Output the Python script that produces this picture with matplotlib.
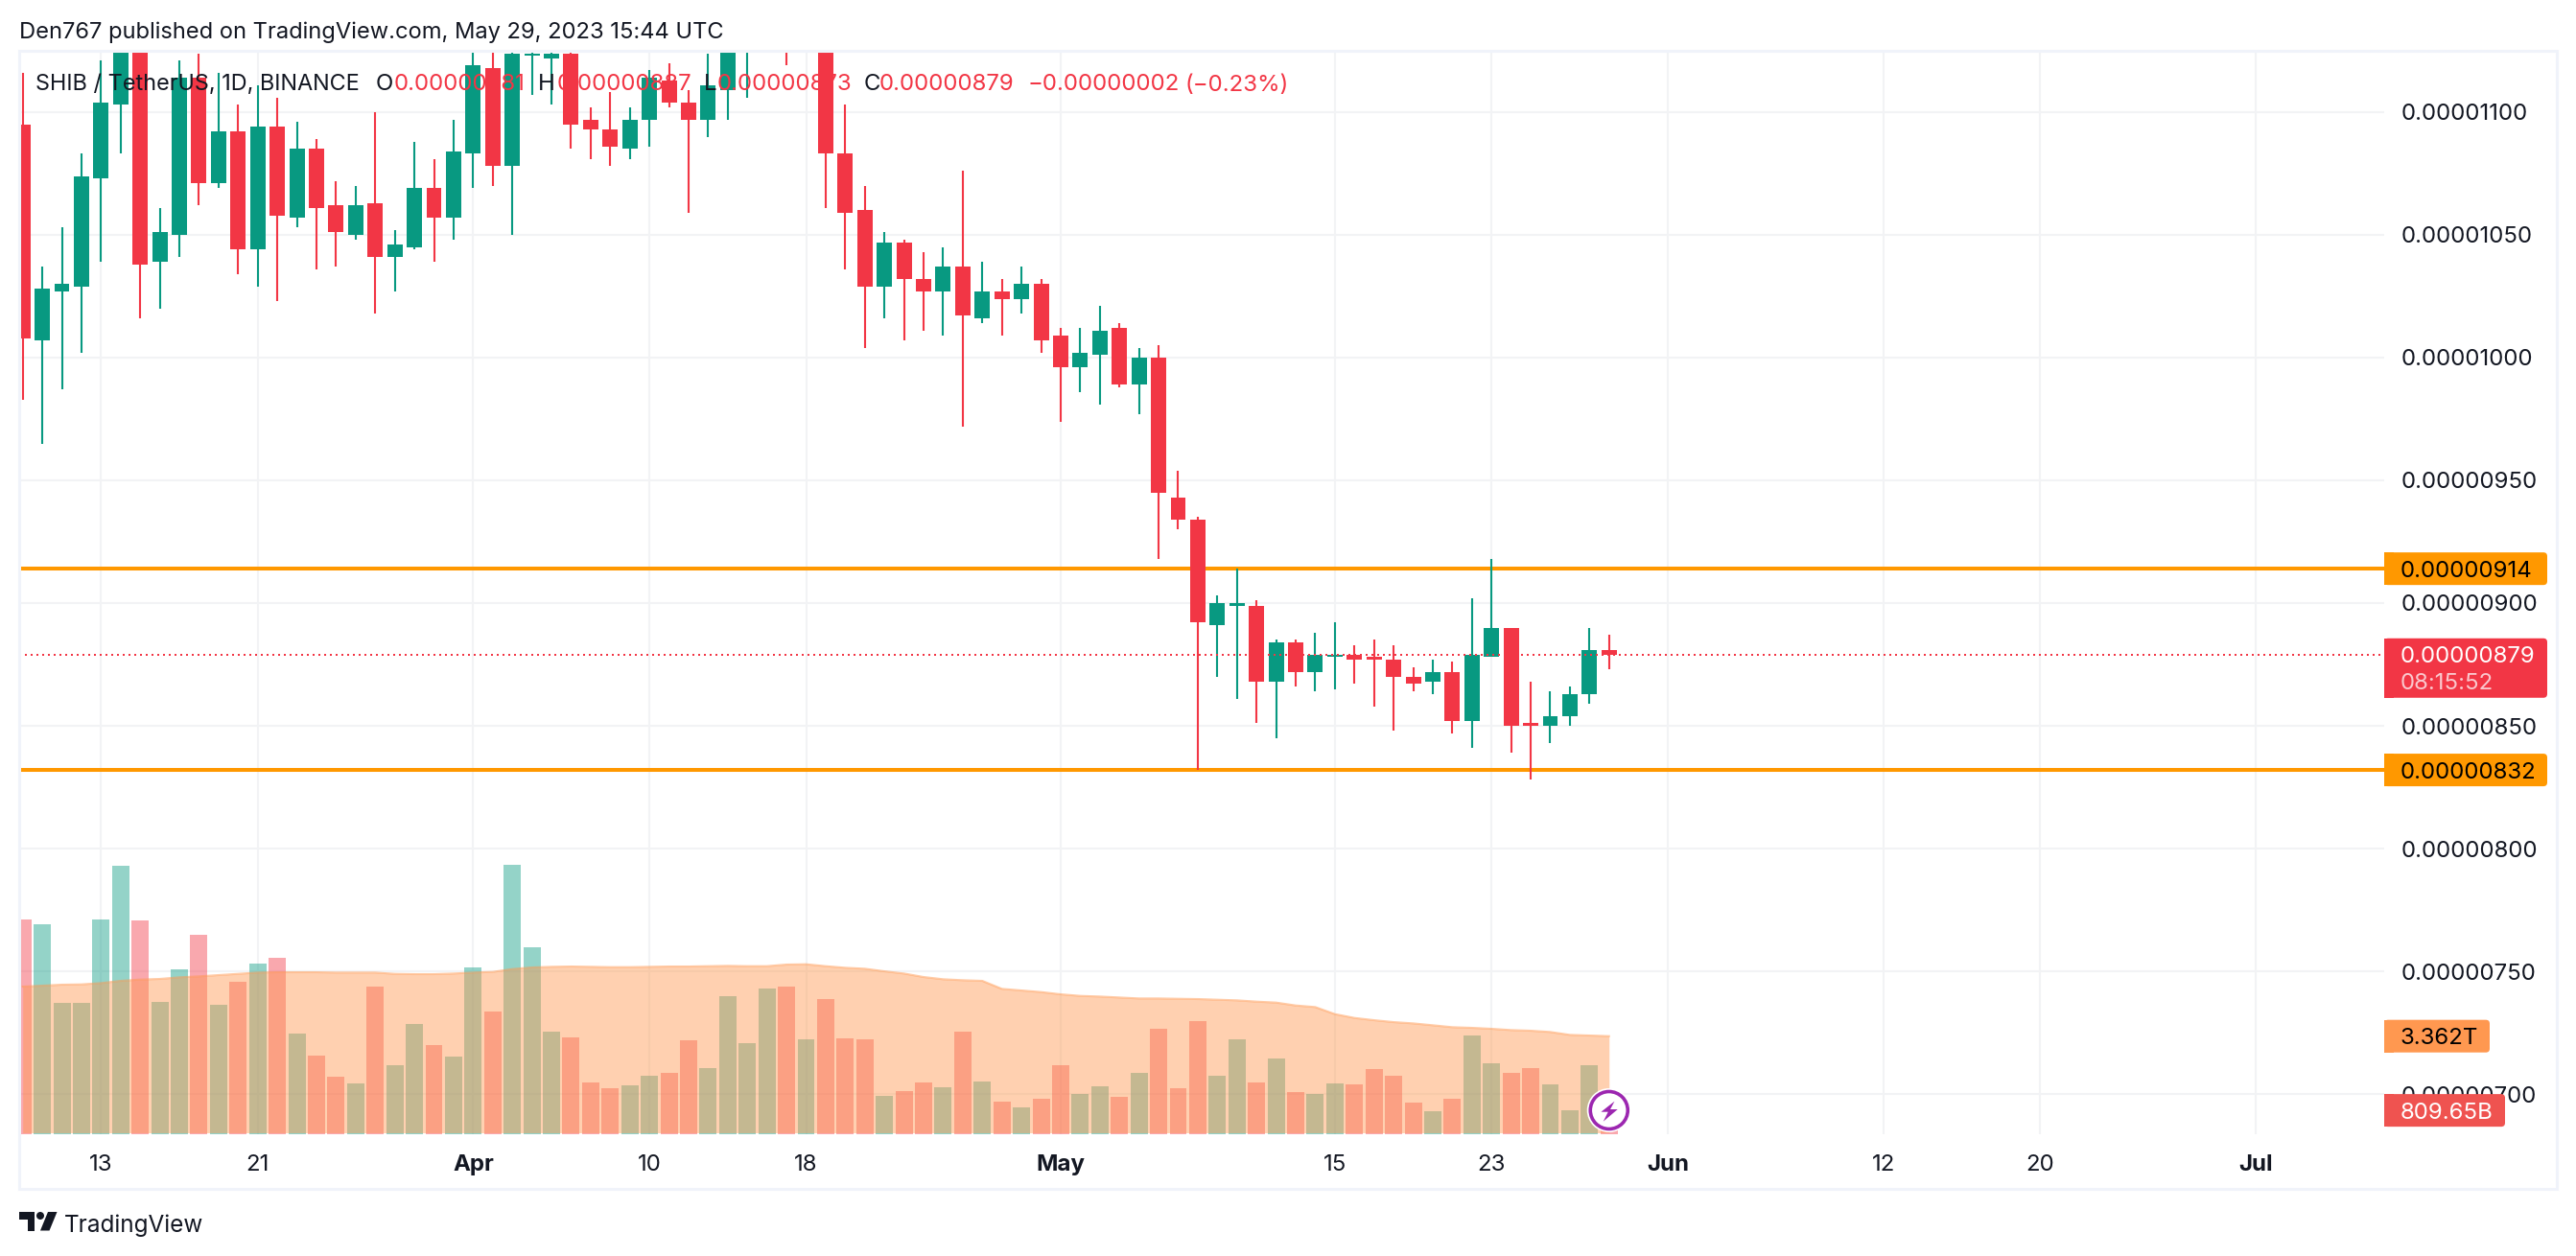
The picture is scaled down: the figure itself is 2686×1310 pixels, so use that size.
import matplotlib
matplotlib.use("Agg")
import matplotlib.pyplot as plt
import matplotlib.dates as mdates
import pandas as pd
from matplotlib.patches import Circle, FancyBboxPatch, Polygon, Rectangle
from matplotlib.transforms import IdentityTransform

W, H = 2686, 1310
plt.rcParams['font.family'] = ['Inter', 'DejaVu Sans']

GREEN = '#089981'
RED = '#F23645'
INK = '#131722'
GRID = '#F2F3F5'
BORDER = '#F0F3FA'
ORANGE = '#FF9800'
MA_COLOR = '#FF9850'

# prices in units of 0.00000001, first candle is Mar 9 2023
opens = [1095, 1007, 1027, 1029, 1073, 1103, 1138, 1039, 1050, 1114, 1071, 1092, 1044, 1094, 1057, 1085, 1062, 1050, 1063, 1041,
         1045, 1069, 1057, 1083, 1118, 1078, 1123, 1122, 1124, 1097, 1093, 1085, 1097, 1113, 1104, 1097, 1109, 1128, 1130, 1140,
         1128, 1140, 1083, 1060, 1029, 1047, 1032, 1027, 1037, 1016, 1027, 1024, 1030, 1009, 996, 1001, 1012, 989, 1000, 943,
         934, 891, 899, 899, 868, 884, 872, 878, 879, 878, 877, 870, 868, 872, 852, 878, 890, 851, 850, 854, 863, 881]
closes = [1008, 1028, 1030, 1074, 1104, 1132, 1038, 1051, 1114, 1071, 1092, 1044, 1094, 1058, 1085, 1061, 1051, 1062, 1041, 1046,
          1069, 1057, 1084, 1119, 1078, 1124, 1124, 1124, 1095, 1093, 1086, 1097, 1114, 1104, 1097, 1111, 1132, 1135, 1135, 1130,
          1132, 1083, 1059, 1029, 1047, 1032, 1027, 1037, 1017, 1027, 1024, 1030, 1007, 996, 1002, 1011, 989, 1000, 945, 934,
          892, 900, 900, 868, 884, 872, 879, 879, 877, 877, 870, 867, 872, 852, 879, 890, 850, 850, 854, 863, 881, 879]
highs = [1116, 1037, 1053, 1083, 1121, 1140, 1145, 1061, 1121, 1124, 1116, 1103, 1111, 1106, 1096, 1089, 1072, 1070, 1100, 1052,
         1088, 1081, 1097, 1128, 1130, 1130, 1125, 1128, 1130, 1102, 1108, 1102, 1117, 1120, 1109, 1124, 1138, 1140, 1140, 1145,
         1140, 1145, 1103, 1070, 1051, 1048, 1043, 1045, 1076, 1039, 1032, 1037, 1032, 1012, 1012, 1021, 1014, 1004, 1005, 954,
         935, 903, 914, 901, 885, 885, 888, 892, 883, 885, 883, 874, 877, 876, 902, 918, 890, 868, 864, 866, 890, 887]
lows = [983, 965, 987, 1002, 1039, 1083, 1016, 1020, 1041, 1062, 1069, 1034, 1029, 1023, 1053, 1036, 1037, 1048, 1018, 1027,
        1044, 1039, 1048, 1069, 1070, 1050, 1107, 1103, 1085, 1081, 1078, 1081, 1086, 1102, 1059, 1090, 1097, 1106, 1125, 1119,
        1125, 1061, 1036, 1004, 1016, 1007, 1011, 1009, 972, 1014, 1009, 1018, 1002, 974, 986, 981, 988, 977, 918, 930,
        832, 870, 861, 851, 845, 866, 864, 865, 867, 858, 848, 864, 863, 847, 841, 878, 839, 828, 843, 850, 859, 873]

# volume in trillions
volumes = [7.372, 7.207, 4.505, 4.505, 7.372, 9.218, 7.339, 4.538, 5.658, 6.845, 4.439, 5.230, 5.856, 6.054, 3.450, 2.692, 1.967, 1.736, 5.065, 2.362,
           3.780, 3.054, 2.659, 5.724, 4.208, 9.251, 6.416, 3.516, 3.318, 1.769, 1.571, 1.670, 2.000, 2.099, 3.219, 2.263, 4.735, 3.120, 4.999, 5.065,
           3.252, 4.637, 3.285, 3.252, 1.307, 1.472, 1.769, 1.604, 3.516, 1.802, 1.110, 0.912, 1.209, 2.362, 1.373, 1.637, 1.274, 2.099, 3.615, 1.571,
           3.878, 2.000, 3.252, 1.769, 2.593, 1.439, 1.373, 1.736, 1.703, 2.230, 2.000, 1.077, 0.780, 1.209, 3.384, 2.428, 2.099, 2.263, 1.703, 0.813, 2.362, 0.810]
volume_ma = [5.065, 5.098, 5.131, 5.142, 5.186, 5.263, 5.307, 5.329, 5.384, 5.417, 5.461, 5.504, 5.548, 5.559, 5.559, 5.559, 5.548, 5.548, 5.548, 5.504,
             5.494, 5.494, 5.515, 5.548, 5.570, 5.669, 5.724, 5.746, 5.757, 5.746, 5.735, 5.735, 5.746, 5.757, 5.757, 5.768, 5.779, 5.768, 5.768, 5.823,
             5.834, 5.768, 5.713, 5.680, 5.592, 5.515, 5.395, 5.318, 5.285, 5.263, 4.988, 4.933, 4.878, 4.801, 4.746, 4.724, 4.691, 4.658, 4.658, 4.647,
             4.637, 4.615, 4.593, 4.549, 4.516, 4.417, 4.362, 4.120, 3.988, 3.911, 3.845, 3.801, 3.736, 3.670, 3.648, 3.615, 3.571, 3.549, 3.505, 3.406, 3.384, 3.362]

level_prices = [914, 832]
last_price = 879
price_ticks = [700, 750, 800, 850, 900, 950, 1000, 1050, 1100]
tick_dates = ['2023-03-13', '2023-03-21', '2023-04-01', '2023-04-10', '2023-04-18', '2023-05-01',
              '2023-05-15', '2023-05-23', '2023-06-01', '2023-06-12', '2023-06-20', '2023-07-01']
tick_names = ['13', '21', 'Apr', '10', '18', 'May', '15', '23', 'Jun', '12', '20', 'Jul']
bold_ticks = ['Apr', 'May', 'Jun', 'Jul']

publish_line = 'Den767 published on TradingView.com, May 29, 2023 15:44 UTC'
legend_parts = [(37, 'SHIB / TetherUS, 1D, BINANCE', INK, 16.9), (392, 'O', INK, 17.3), (411, '0.00000881', RED, 17.3),
                (561, 'H', INK, 17.3), (581, '0.00000887', RED, 17.3), (734, 'L', INK, 17.3), (748, '0.00000873', RED, 17.3),
                (901, 'C', INK, 17.3), (917, '0.00000879', RED, 17.3), (1072, '\u22120.00000002', RED, 17.3), (1236, '(\u22120.23%)', RED, 17.3)]

FONT = 17.3


def box(x0, x1, y0, y1):
    # pane rectangle in figure fractions, from pixels with y going down
    return [x0 / W, 1 - y1 / H, (x1 - x0) / W, (y1 - y0) / H]


def put_text(x, y, s, color=INK, ha='left', size=FONT, **kw):
    fig.text(x / W, 1 - y / H, s, color=color, ha=ha, va='center_baseline', fontsize=size, zorder=10, **kw)


def price_tag(center, x1, height, color):
    y0 = H - center - height / 2
    fig.add_artist(FancyBboxPatch((2486, y0), x1 - 2486, height, boxstyle='round,pad=0,rounding_size=4',
                                  facecolor=color, edgecolor='none', transform=IdentityTransform(), zorder=5))
    fig.add_artist(Rectangle((2486, y0), 10, height, facecolor=color, edgecolor='none',
                             transform=IdentityTransform(), zorder=5))


fig = plt.figure(figsize=(W / 100, H / 100), dpi=100, facecolor='white')

dates = pd.date_range('2023-03-09', periods=len(opens))
x = mdates.date2num(dates)
xlim = (x[0] - 0.18, x[0] + 120.58)
ticks = mdates.date2num(pd.to_datetime(tick_dates))

ax = fig.add_axes(box(20, 2486, 54, 1183))
ax.set_xlim(xlim)
ax.set_ylim(683.6, 1124.6)
ax.set_xticks(ticks)
ax.set_xticklabels(tick_names, fontsize=FONT, color=INK)
for lbl in ax.get_xticklabels():
    if lbl.get_text() in bold_ticks:
        lbl.set_fontweight('bold')
ax.set_yticks(price_ticks)
ax.set_yticklabels([f'{p / 1e8:.8f}' for p in price_ticks], fontsize=FONT, color=INK, va='center_baseline')
ax.yaxis.tick_right()
ax.tick_params(axis='x', length=0, pad=15)
ax.tick_params(axis='y', length=0, pad=12.5)
ax.grid(True, color=GRID, linewidth=1.5)
ax.set_axisbelow(True)
for s in ax.spines.values():
    s.set_visible(False)

ax.hlines(level_prices, xlim[0], xlim[1], color=ORANGE, linewidth=2.9, zorder=1.5)

colors = [GREEN if c >= o else RED for o, c in zip(opens, closes)]
ax.vlines(x, lows, highs, color=colors, linewidth=1.5, zorder=2)
bottoms = [min(o, c) for o, c in zip(opens, closes)]
heights = [abs(c - o) for o, c in zip(opens, closes)]
ax.bar(x, heights, bottom=bottoms, width=0.78, color=colors, linewidth=0, zorder=3)
ax.plot(xlim, [last_price, last_price], color=RED, linewidth=1.44, linestyle=(0, (1, 2)), zorder=4)

ax_vol = fig.add_axes(box(20, 2486, 54, 1183), sharex=ax)
ax_vol.patch.set_visible(False)
ax_vol.set_ylim(-0.01, 37.2)
ax_vol.axis('off')
ax_vol.bar(x, volumes, width=0.88, color=colors, alpha=0.43, linewidth=0)
ax_vol.fill_between(x, 0.04, volume_ma, color=MA_COLOR, alpha=0.45, linewidth=0)
ax_vol.plot(x, volume_ma, color=MA_COLOR, alpha=0.5, linewidth=1.5)

# outer frame
fig.add_artist(Rectangle((20, H - 1240), 2646, 1240 - 53, facecolor='none', edgecolor=BORDER, linewidth=2.2,
                         transform=IdentityTransform(), zorder=0.5))

put_text(20, 31, publish_line, size=17.05)
for px, s, c, fs in legend_parts:
    put_text(px, 86, s, color=c, size=fs)

# tags on the price scale
right_text = 2503
for price in level_prices:
    cy = H - ax.transData.transform((0, price))[1]
    price_tag(cy, 2656, 34, ORANGE)
    put_text(right_text, cy, f'{price / 1e8:.8f}', color='black')

cy = H - ax.transData.transform((0, last_price))[1]
price_tag(cy + 14, 2656, 62, RED)
put_text(right_text, cy, f'{last_price / 1e8:.8f}', color='white')
put_text(right_text, cy + 28, '08:15:52', color='#FAC8CD')

cy = H - ax_vol.transData.transform((0, volume_ma[-1]))[1]
price_tag(cy, 2596, 34, MA_COLOR)
put_text(right_text, cy, f'{volume_ma[-1]:.3f}T', color='black')

cy = H - ax_vol.transData.transform((0, volumes[-1]))[1]
price_tag(cy, 2612, 34, '#EF5350')
put_text(right_text, cy, '809.65B', color='white')

# marker on the last bar
ix, iy = ax.transData.transform((x[-1], 0))[0], H - 1158
fig.add_artist(Circle((ix, iy), 23, facecolor='white', edgecolor='none', transform=IdentityTransform(), zorder=2))
fig.add_artist(Circle((ix, iy), 19.5, facecolor='white', edgecolor='#9C27B0', linewidth=2.6,
                      transform=IdentityTransform(), zorder=2))
bolt = [(5.7, 9.3), (-8.3, -1.7), (-1, -1.7), (-6, -11.7), (9, 1), (1.3, 1)]
fig.add_artist(Polygon([(ix + a, iy + b) for a, b in bolt], closed=True, facecolor='#9C27B0', edgecolor='none',
                       transform=IdentityTransform(), zorder=2))

# TradingView logo
logo_shapes = [[(20, 1264), (36, 1264), (36, 1264), (36, 1272), (20, 1272)],
               [(28.7, 1264), (36, 1264), (36, 1283.5), (28.7, 1283.5)],
               [(50, 1264), (59.5, 1264), (51.5, 1283.5), (42, 1283.5)]]
for shape in logo_shapes:
    fig.add_artist(Polygon([(a, H - b) for a, b in shape], closed=True, facecolor=INK, edgecolor='none',
                           transform=IdentityTransform(), zorder=2))
fig.add_artist(Circle((42, H - 1268), 4, facecolor=INK, edgecolor='none', transform=IdentityTransform(), zorder=2))
put_text(67, 1276, 'TradingView', size=17.5)

fig.savefig('out.png', dpi=100)
